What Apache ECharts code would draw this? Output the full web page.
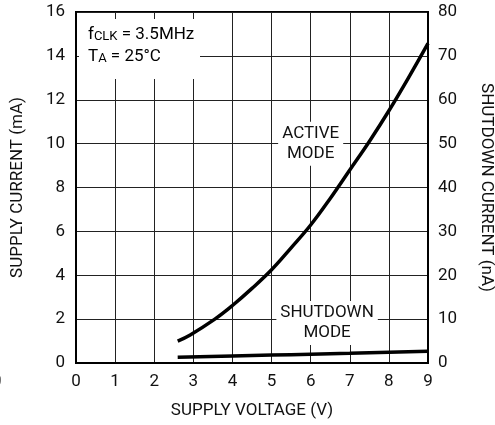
<!DOCTYPE html>
<html><head><meta charset="utf-8">
<script src="https://cdn.jsdelivr.net/npm/echarts@6/dist/echarts.min.js"></script>
<style>html,body{margin:0;padding:0;background:#fff}#c{width:495px;height:425px}</style>
</head><body><div id="c"></div>
<script>
var FONT = "Roboto, 'Liberation Sans', Arial, sans-serif";
var FS = 17;
var xTicks = [0,1,2,3,4,5,6,7,8,9];
var activeVoltage = [2.6, 2.92, 3.55, 4.0, 4.5, 5.0, 5.5, 6.0, 6.5, 7.0, 7.5, 8.0, 8.5, 9.0];
var activeCurrent = [1.0, 1.28, 2.0, 2.62, 3.4, 4.25, 5.25, 6.29, 7.5, 8.8, 10.1, 11.5, 13.0, 14.57];
var shutdownVoltage = [2.6, 4, 5, 6, 7, 8, 9];
var shutdownCurrent = [1.3, 1.6, 1.8, 2.0, 2.2, 2.45, 2.65];
var activeLabelAt = [6, 10];
var shutdownLabelAt = [6.42, 9.1];

function zip(a,b){return a.map(function(v,i){return [v,b[i]];});}
var chart = echarts.init(document.getElementById('c'));
var lbl = {fontFamily:FONT,fontSize:FS,color:'#111'};
chart.setOption({
  animation:false,
  textStyle:{fontFamily:FONT},
  grid:{left:76,right:67,top:12,bottom:62,containLabel:false,outerBoundsMode:'none',
    show:true,borderColor:'#000',borderWidth:2},
  xAxis:{type:'value',min:0,max:9,interval:1,
    name:'SUPPLY VOLTAGE (V)',nameLocation:'middle',nameGap:39,
    nameTextStyle:lbl,
    axisLine:{show:true,lineStyle:{color:'#000',width:2}},axisTick:{show:false},
    axisLabel:{fontFamily:FONT,fontSize:FS,color:'#111',margin:10},
    splitLine:{show:true,lineStyle:{color:'#222',width:1}}},
  yAxis:[{type:'value',min:0,max:16,interval:2,
    name:'SUPPLY CURRENT (mA)',nameLocation:'middle',nameGap:50,nameRotate:90,
    nameTextStyle:lbl,
    axisLine:{show:true,lineStyle:{color:'#000',width:2}},axisTick:{show:false},
    axisLabel:{fontFamily:FONT,fontSize:FS,color:'#111',margin:11},
    splitLine:{show:true,lineStyle:{color:'#222',width:1}}},
   {type:'value',min:0,max:80,interval:10,position:'right',
    name:'SHUTDOWN CURRENT (nA)',nameLocation:'middle',nameGap:50,nameRotate:-90,
    nameTextStyle:lbl,
    axisLine:{show:true,lineStyle:{color:'#000',width:2}},axisTick:{show:false},
    axisLabel:{fontFamily:FONT,fontSize:FS,color:'#111',margin:10},
    splitLine:{show:false}}],
  series:[
    {type:'line',name:'active',data:zip(activeVoltage,activeCurrent),smooth:0.4,showSymbol:false,
     lineStyle:{color:'#000',width:3.5},z:5,
     markPoint:{symbol:'circle',symbolSize:0,data:[{coord:activeLabelAt,
       label:{show:true,formatter:'ACTIVE\nMODE',fontFamily:FONT,fontSize:FS,color:'#111',
       backgroundColor:'#fff',padding:[2,4],lineHeight:20,align:'center',verticalAlign:'middle'}}]}},
    {type:'line',name:'shutdown',yAxisIndex:1,data:zip(shutdownVoltage,shutdownCurrent),smooth:true,showSymbol:false,
     lineStyle:{color:'#000',width:3.5},z:5,
     markPoint:{symbol:'circle',symbolSize:0,data:[{coord:shutdownLabelAt,
       label:{show:true,formatter:'SHUTDOWN\nMODE',fontFamily:FONT,fontSize:FS,color:'#111',
       backgroundColor:'#fff',padding:[2,4],lineHeight:20,align:'center',verticalAlign:'middle'}}]}}
  ],
  graphic:[
    {type:'rect',left:79,top:19,shape:{width:121,height:60},style:{fill:'#fff'},z:10},
    {type:'text',left:88,top:23,z:11,style:{
      text:'{n|f}{s|CLK}{n| = 3.5MHz}\n{n|T}{s|A}{n| = 25°C}',
      rich:{n:{fontFamily:FONT,fontSize:FS,color:'#111',lineHeight:22,verticalAlign:'bottom'},
            s:{fontFamily:FONT,fontSize:13,color:'#111',lineHeight:22,verticalAlign:'bottom',padding:[7,0,0,0]}}}},
    {type:'text',left:-8,top:373,z:11,style:{text:'0',fontFamily:FONT,fontSize:FS,fill:'#111'}}
  ]
});
</script></body></html>
